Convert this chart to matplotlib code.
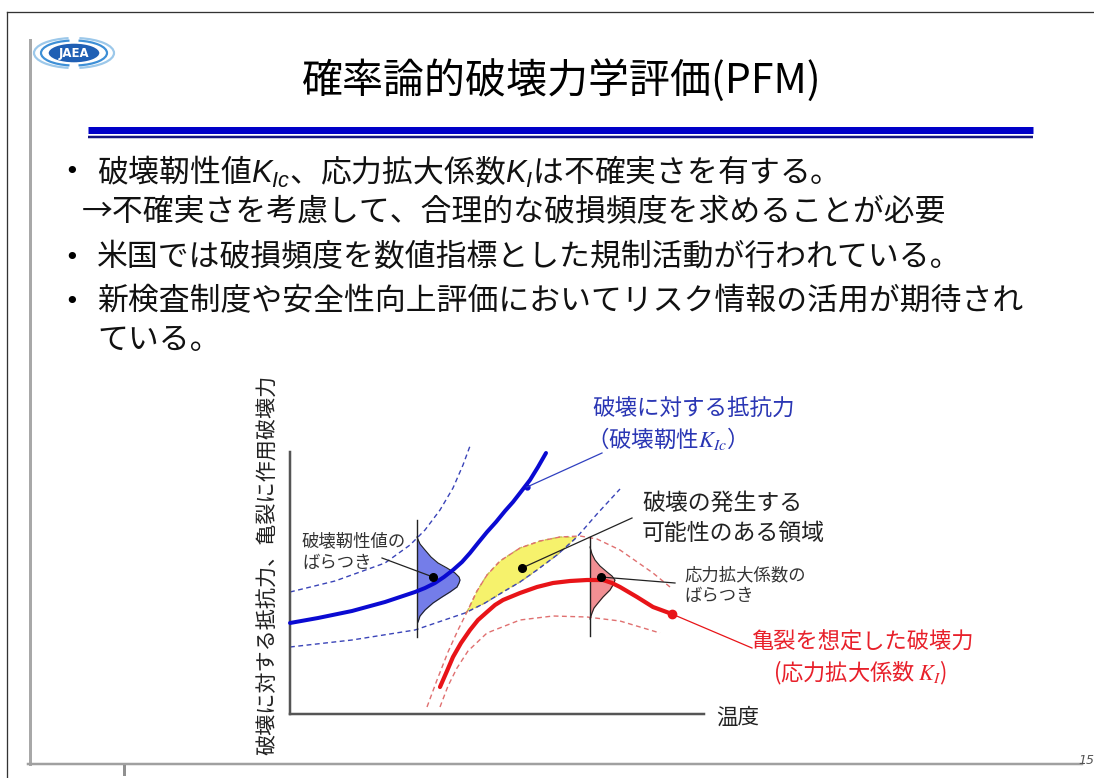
import matplotlib
matplotlib.use("Agg")
import matplotlib.pyplot as plt
from matplotlib.patches import Ellipse, Arc

plt.rcParams['font.family'] = ['Noto Sans CJK JP', 'DejaVu Sans']
plt.rcParams['mathtext.fontset'] = 'custom'
plt.rcParams['mathtext.rm'] = 'Liberation Sans'
plt.rcParams['mathtext.it'] = 'Liberation Sans:italic'

W, H = 1094, 778
PX = 0.72  # one pixel in points at dpi 100

# ---- slide text ----
title = '確率論的破壊力学評価(PFM)'
bullet_lines = [
    '破壊靭性値$K_{Ic}$、応力拡大係数$K_I$は不確実さを有する。',
    '→不確実さを考慮して、合理的な破損頻度を求めることが必要',
    '米国では破損頻度を数値指標とした規制活動が行われている。',
    '新検査制度や安全性向上評価においてリスク情報の活用が期待され',
    'ている。',
]
bullet_marks = [True, False, True, True, False]

# ---- diagram data (x: temperature, y: force; arbitrary units from the origin) ----
kic_t = [0, 28, 62, 95, 110, 125, 135, 145, 154, 163, 172, 180, 188, 197, 206,
         215, 223, 230, 240, 248, 256]
kic_v = [91, 96, 103, 112, 117, 122, 126, 131, 137, 144, 152, 161, 171, 182, 192,
         203, 212, 221, 234, 247, 261]

kic_hi_t = [0, 45, 95, 120, 135, 150, 163, 173, 180]
kic_hi_v = [122, 133, 151, 169, 184, 204, 226, 249, 268]

kic_lo_t = [0, 62, 125, 175, 195, 213, 230, 247, 267, 287, 307, 330]
kic_lo_v = [67, 74, 84, 101, 111, 122, 132, 144, 159, 177, 200, 225]

ki_t = [150, 157, 163, 171, 180, 188, 197, 205, 213, 230, 247, 263, 280, 297,
        313, 322, 330, 347, 363, 382]
ki_v = [27, 43, 57, 71, 84, 94, 102, 109, 114, 121, 127, 131, 133, 134,
        134, 131, 127, 117, 107, 100]

ki_hi_t = [137, 147, 158, 168, 177, 187, 197, 210, 230, 250, 270, 290, 307, 330, 363, 380]
ki_hi_v = [7, 34, 62, 84, 102, 123, 139, 153, 166, 173, 177, 178, 175, 164, 141, 127]

ki_lo_t = [150, 158, 167, 178, 197, 230, 263, 297, 330, 370]
ki_lo_v = [7, 28, 46, 63, 81, 94, 98, 97, 93, 81]

# scatter (distribution) of K_Ic and K_I
kic_dist_t = 127
kic_dist_range = [77, 194]
kic_bell_v = [177, 170, 164, 157, 151, 146, 141, 137, 134, 131, 127, 122, 117, 111, 104, 98, 92]
kic_bell_w = [0, 3, 8, 14, 21, 30, 38, 42, 43, 42, 40, 33, 25, 16, 8, 3, 1]

ki_dist_t = 300
ki_dist_range = [78, 177]
ki_bell_v = [167, 160, 154, 148, 142, 138, 134, 129, 124, 117, 111, 106, 101, 95]
ki_bell_w = [0, 2, 5, 10, 17, 22, 25, 23, 20, 13, 8, 4, 2, 0]

# yellow overlap region: between K_Ic lower bound and K_I upper bound
overlap_t = [175, 287]

# marked points and leader lines
kic_dot = (143, 137)
kic_dot_lead = (92, 156)
overlap_dot = (232, 146)
overlap_dot_lead = (342, 196)
ki_dot = (311, 137)
ki_dot_lead = (385, 131)
kic_curve_mark = (237, 227)
kic_curve_lead = (312, 261)
ki_end_lead = (462, 66)

BLUE = '#0a0ad2'
RED = '#e81418'

fig = plt.figure(figsize=(W / 100, H / 100), dpi=100)
ax = fig.add_axes([0, 0, 1, 1])
ax.set_xlim(0, W)
ax.set_ylim(H, 0)
ax.axis('off')

# slide frame
ax.plot([6.5, W], [11.5, 11.5], color='#333333', lw=1.3 * PX)
ax.plot([6.5, 6.5], [11.5, H], color='#333333', lw=1.3 * PX)
ax.plot([29.5, 29.5], [40, 764], color='#a8a8a8', lw=3 * PX)
ax.plot([28, 1082], [764, 764], color='#a0a0a0', lw=2.5 * PX)
ax.plot([124, 124], [766, 774], color='#909090', lw=3 * PX)
ax.text(1078, 761, '15', fontsize=9, style='italic', color='#555555',
        ha='left', va='center', family='DejaVu Sans')

# logo
for w, h, c in [(80, 30, '#9cc8ea'), (66, 25, '#3d8fd6')]:
    ax.add_patch(Arc((74, 53), w, h, theta1=110, theta2=250, color=c, lw=2.2 * PX))
    ax.add_patch(Arc((74, 53), w, h, theta1=-70, theta2=70, color=c, lw=2.2 * PX))
ax.add_patch(Ellipse((74, 53), 52, 20, facecolor='#1f5fb4', edgecolor='white', lw=1))
ax.text(74, 53.5, 'JAEA', color='white', fontsize=8.5, fontweight='bold',
        ha='center', va='center', family='DejaVu Sans')

# title and rule
ax.text(561, 80, title, fontsize=29.5, ha='center', va='center')
ax.plot([88, 1033], [129.5, 129.5], color='#0000c8', lw=7 * PX, solid_capstyle='butt')
ax.plot([88, 1033], [137, 137], color='#141480', lw=2.5 * PX, solid_capstyle='butt')

# bullets
line_y = [172, 213, 258, 302, 340]
for text, mark, y in zip(bullet_lines, bullet_marks, line_y):
    if mark:
        ax.text(72, y, '•', fontsize=18, ha='center', va='center', family='DejaVu Sans')
    x0 = 82 if text.startswith('→') else 97
    ax.text(x0, y, text, fontsize=22.2, ha='left', va='center', color='#111111')

# ---- diagram ----
dax = fig.add_axes([290 / W, (H - 714) / H, 414 / W, 274 / H])
dax.set_xlim(0, 414)
dax.set_ylim(0, 274)
dax.patch.set_alpha(0)
dax.set_xticks([])
dax.set_yticks([])
for s in ['top', 'right']:
    dax.spines[s].set_visible(False)
for s in ['left', 'bottom']:
    dax.spines[s].set_color('#555555')
    dax.spines[s].set_linewidth(2.5 * PX)
dax.spines['left'].set_bounds(0, 262)

# yellow overlap region
up = [(t, v) for t, v in zip(ki_hi_t, ki_hi_v) if overlap_t[0] <= t <= overlap_t[1]]
lo = [(t, v) for t, v in zip(kic_lo_t, kic_lo_v) if overlap_t[0] <= t <= overlap_t[1]]
poly = up + lo[::-1]
dax.fill([p[0] for p in poly], [p[1] for p in poly], facecolor='#f6f26c',
         edgecolor='#c8c050', lw=1.0, ls=(0, (3, 2)), zorder=1)

dash = (0, (3.5, 2.5))
dax.plot(kic_hi_t, kic_hi_v, color='#3a44b8', lw=1.0, ls=dash, clip_on=False)
dax.plot(kic_lo_t, kic_lo_v, color='#3a44b8', lw=1.0, ls=dash, clip_on=False)
dax.plot(ki_hi_t, ki_hi_v, color='#e07070', lw=1.0, ls=dash, clip_on=False)
dax.plot(ki_lo_t, ki_lo_v, color='#e07070', lw=1.0, ls=dash, clip_on=False)

# distributions
dax.fill_betweenx(kic_bell_v, kic_dist_t, [kic_dist_t + w for w in kic_bell_w],
                  color='#5c66e6', alpha=0.85, lw=0, zorder=2)
dax.plot([kic_dist_t + w for w in kic_bell_w], kic_bell_v, color='#222222', lw=0.8, zorder=3)
dax.plot([kic_dist_t, kic_dist_t], kic_dist_range, color='#222222', lw=1.0, zorder=3)

dax.fill_betweenx(ki_bell_v, ki_dist_t, [ki_dist_t + w for w in ki_bell_w],
                  color='#f07c80', alpha=0.85, lw=0, zorder=2)
dax.plot([ki_dist_t + w for w in ki_bell_w], ki_bell_v, color='#222222', lw=0.8, zorder=3)
dax.plot([ki_dist_t, ki_dist_t], ki_dist_range, color='#222222', lw=1.0, zorder=3)

# main curves
dax.plot(kic_t, kic_v, color=BLUE, lw=4 * PX, solid_capstyle='round',
         solid_joinstyle='round', zorder=4, clip_on=False)
dax.plot(ki_t, ki_v, color=RED, lw=4.2 * PX, solid_capstyle='round',
         solid_joinstyle='round', zorder=4, clip_on=False)
dax.plot(ki_t[-1], ki_v[-1], 'o', color=RED, ms=6, zorder=5)
dax.plot(*kic_curve_mark, 'o', color=BLUE, ms=3.5, zorder=5)

# leader lines and dots
dax.plot(*zip(kic_curve_mark, kic_curve_lead), color='#3040c0', lw=0.9, zorder=5, clip_on=False)
dax.plot(*zip((ki_t[-1], ki_v[-1]), ki_end_lead), color=RED, lw=0.9, zorder=5, clip_on=False)
for dot, lead in [(kic_dot, kic_dot_lead), (overlap_dot, overlap_dot_lead), (ki_dot, ki_dot_lead)]:
    dax.plot(*zip(dot, lead), color='#222222', lw=0.9, zorder=5, clip_on=False)
    dax.plot(*dot, 'o', color='black', ms=5.5, zorder=6)

# diagram labels (pixel positions on the slide)
ax.text(268, 565, '破壊に対する抵抗力、亀裂に作用破壊力', fontsize=15.2, rotation=90,
        ha='center', va='center', color='#222222')
ax.text(716, 718, '温度', fontsize=15.5, ha='left', va='center', color='#222222')
ax.text(592, 408, '破壊に対する抵抗力', fontsize=16.2, ha='left', va='center', color='#2a36b4')
ax.text(586, 438, '（破壊靭性$K_{Ic}$）', fontsize=16.2, ha='left', va='center',
        color='#2a36b4', math_fontfamily='stix')
ax.text(642, 503, '破壊の発生する', fontsize=16.5, ha='left', va='center', color='#222222')
ax.text(642, 533, '可能性のある領域', fontsize=16.5, ha='left', va='center', color='#222222')
ax.text(302, 541, '破壊靭性値の', fontsize=12.5, ha='left', va='center', color='#333333')
ax.text(302, 563, 'ばらつき', fontsize=12.5, ha='left', va='center', color='#333333')
ax.text(684, 575, '応力拡大係数の', fontsize=12.5, ha='left', va='center', color='#333333')
ax.text(684, 596, 'ばらつき', fontsize=12.5, ha='left', va='center', color='#333333')
ax.text(752, 642, '亀裂を想定した破壊力', fontsize=16, ha='left', va='center', color='#e8202a')
ax.text(773, 673, '(応力拡大係数 $K_I$)', fontsize=16, ha='left', va='center',
        color='#e8202a', math_fontfamily='stix')

fig.savefig('out.png', dpi=100)
